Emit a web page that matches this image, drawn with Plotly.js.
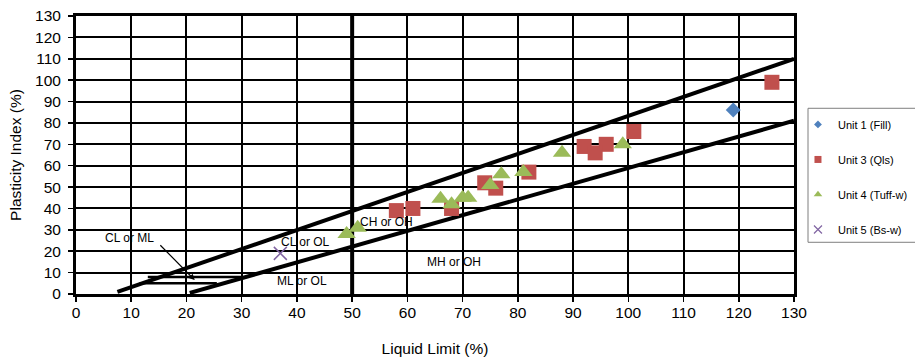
<!DOCTYPE html>
<html>
<head>
<meta charset="utf-8">
<script src="https://cdn.plot.ly/plotly-3.0.1.min.js"></script>
<style>html,body{margin:0;padding:0;background:#fff;}#chart{width:915px;height:357px;}</style>
</head>
<body>
<div id="chart"></div>
<script>
// ---- data ----
const unit1LL = [119];
const unit1PI = [86];
const unit3LL = [126, 101, 96, 92, 94, 82, 74, 76, 68, 58, 61];
const unit3PI = [99, 76, 70, 69, 66, 57, 52, 49.5, 40, 39, 40];
const unit4LL = [49, 51, 66, 68, 70, 71, 75, 77, 81, 88, 99];
const unit4PI = [28, 31, 44.5, 42, 45, 45, 51, 56, 57, 66, 70];
const unit5LL = [37];
const unit5PI = [19];

// reference lines of the plasticity chart
const uLineLL = [7.5, 130];
const uLinePI = [1, 110];
const aLineLL = [20.6, 130];
const aLinePI = [0.5, 81];
const bandTopLL = [13, 30];
const bandTopPI = [8, 8];
const bandBotLL = [11.5, 25.5];
const bandBotPI = [5, 5];
const ll50LL = [50, 50];
const ll50PI = [0, 130];

// zone labels
const zoneLabels = ["CL or ML", "CL or OL", "ML or OL", "CH or OH", "MH or OH"];
const zoneLabelLL = [9.6, 41.6, 41, 56.3, 68.4];
const zoneLabelPI = [26.4, 24.5, 5.9, 33.9, 15.2];
// arrow from "CL or ML" label to the band
const arrowTailLL = 15, arrowTailPI = 23.5;
const arrowHeadLL = 21.5, arrowHeadPI = 6.5;

const tickVals = [0,10,20,30,40,50,60,70,80,90,100,110,120,130];
const seriesNames = ["Unit 1 (Fill)", "Unit 3 (Qls)", "Unit 4 (Tuff-w)", "Unit 5 (Bs-w)"];

const FONT = "Arial, 'Liberation Sans', sans-serif";
const blue = "#4F81BD", red = "#C0504D", green = "#9BBB59", purple = "#8064A2";

function line(x, y, w) {
  return {x: x, y: y, mode: "lines", line: {color: "#000", width: w}, showlegend: false, hoverinfo: "skip"};
}

const traces = [
  line(ll50LL, ll50PI, 4),
  line(uLineLL, uLinePI, 4),
  line(aLineLL, aLinePI, 4),
  line(bandTopLL, bandTopPI, 2.5),
  line(bandBotLL, bandBotPI, 2.5),
  {x: unit3LL, y: unit3PI, mode: "markers", showlegend: false,
   marker: {symbol: "square", size: 15, color: red}},
  {x: unit4LL, y: unit4PI, mode: "markers", showlegend: false,
   marker: {symbol: "triangle-up", size: 16, color: green}},
  {x: unit1LL, y: unit1PI, mode: "markers", showlegend: false,
   marker: {symbol: "diamond", size: 11.5, color: blue}},
  {x: unit5LL, y: unit5PI, mode: "markers", showlegend: false,
   marker: {symbol: "x-thin-open", size: 13, color: purple, line: {color: purple, width: 1.5}}},
  // legend entries
  {x: [null], y: [null], mode: "markers", name: seriesNames[0], legendgroup: "a",
   marker: {symbol: "diamond", size: 6, color: blue}},
  {x: [null], y: [null], mode: "markers", name: seriesNames[1], legendgroup: "b",
   marker: {symbol: "square", size: 7, color: red}},
  {x: [null], y: [null], mode: "markers", name: seriesNames[2], legendgroup: "c",
   marker: {symbol: "triangle-up", size: 7.5, color: green}},
  {x: [null], y: [null], mode: "markers", name: seriesNames[3], legendgroup: "d",
   marker: {symbol: "x-thin-open", size: 8, color: purple, line: {color: purple, width: 1.2}}}
];

const annotations = zoneLabels.map((t, i) => ({
  x: zoneLabelLL[i], y: zoneLabelPI[i], xref: "x", yref: "y", text: t, showarrow: false,
  font: {family: FONT, size: 12, color: "#000"}
}));
annotations.push({
  x: arrowHeadLL, y: arrowHeadPI, ax: arrowTailLL, ay: arrowTailPI,
  xref: "x", yref: "y", axref: "x", ayref: "y", text: "", showarrow: true,
  arrowhead: 2, arrowsize: 1, arrowwidth: 1.2, arrowcolor: "#000"
});

const axisCommon = {
  range: [0, 130], tickvals: tickVals, ticktext: tickVals.map(String),
  showgrid: true, gridcolor: "#000", gridwidth: 2, zeroline: false,
  showline: true, linecolor: "#000", linewidth: 3, mirror: true,
  ticks: "outside", ticklen: 5, tickwidth: 1.5, tickcolor: "#000",
  tickfont: {family: FONT, size: 15.5, color: "#000"}, fixedrange: true,
  automargin: false
};

const layout = {
  width: 915, height: 357,
  margin: {l: 76, r: 121, t: 16, b: 63, pad: 0, autoexpand: false},
  paper_bgcolor: "#fff", plot_bgcolor: "#fff",
  font: {family: FONT, color: "#000"},
  xaxis: Object.assign({}, axisCommon, {
    ticklabelstandoff: -3,
    title: {text: "Liquid Limit (%)", font: {family: FONT, size: 15.5, color: "#000"}, standoff: 24}
  }),
  yaxis: Object.assign({}, axisCommon, {
    ticklabelstandoff: 4,
    title: {text: "Plasticity Index (%)", font: {family: FONT, size: 15.5, color: "#000"}, standoff: 10}
  }),
  showlegend: true,
  legend: {
    xref: "container", yref: "container",
    x: 0.8721, xanchor: "left", y: 0.692, yanchor: "top",
    borderwidth: 0, bgcolor: "rgba(0,0,0,0)",
    font: {family: FONT, size: 11, color: "#000"},
    traceorder: "grouped", tracegroupgap: 16, itemwidth: 30
  },
  // legend frame
  shapes: [{
    type: "rect", xref: "paper", yref: "paper", layer: "below",
    x0: 1.0195, x1: 1.2, y0: 0.186, y1: 0.668,
    line: {color: "#7f7f7f", width: 1}, fillcolor: "#fff"
  }],
  annotations: annotations
};

Plotly.newPlot("chart", traces, layout, {staticPlot: true, displayModeBar: false});
</script>
</body>
</html>
